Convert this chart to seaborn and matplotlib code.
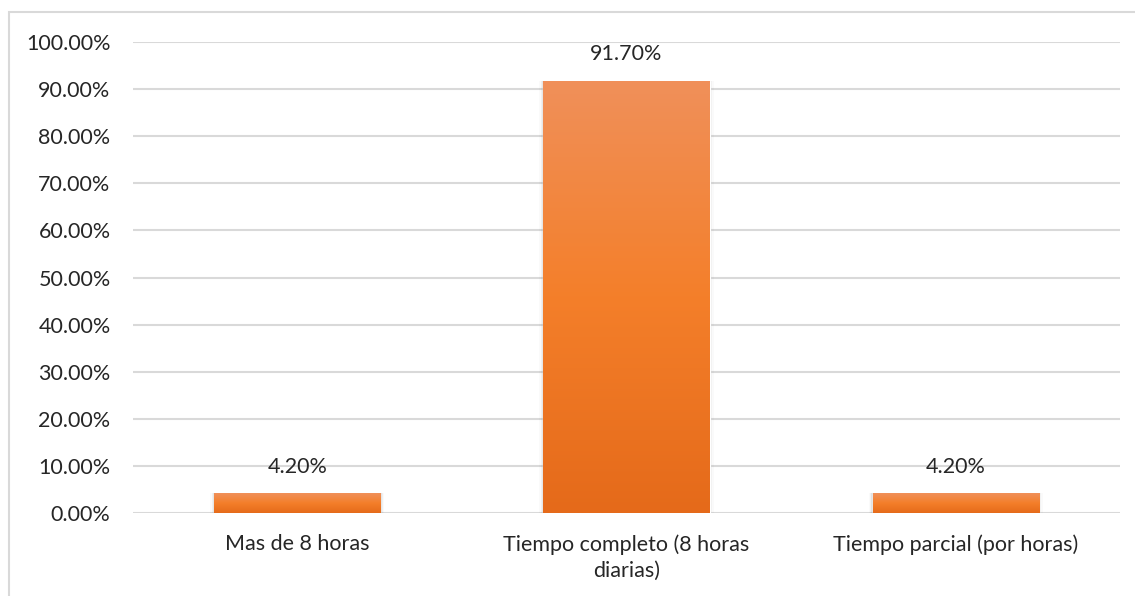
import numpy as np
import pandas as pd
import matplotlib
matplotlib.use('Agg')
import matplotlib.pyplot as plt
from matplotlib.patches import Rectangle
from matplotlib.colors import LinearSegmentedColormap
from matplotlib.ticker import FuncFormatter
import seaborn as sns

# Datos
categorias = ['Mas de 8 horas', 'Tiempo completo (8 horas\ndiarias)', 'Tiempo parcial (por horas)']
porcentajes = [0.042, 0.917, 0.042]
etiquetas = ['4.20%', '91.70%', '4.20%']

df = pd.DataFrame({'categoria': categorias, 'porcentaje': porcentajes})

sns.set_style('white')
plt.rcParams['font.family'] = ['Lato', 'DejaVu Sans']

fig = plt.figure(figsize=(11.35, 5.96), dpi=100)
ax = fig.add_axes([0.117, 0.139, 0.870, 0.7905])

sns.barplot(data=df, x='categoria', y='porcentaje', color='#ED7D31',
            width=0.505, ax=ax, zorder=3)

# degradado naranja en cada barra
cmap = LinearSegmentedColormap.from_list('naranja', ['#E56A1A', '#F47F2A', '#F0905A'])
grad = np.linspace(0, 1, 256).reshape(-1, 1)
for bar in list(ax.patches):
    x0, y0 = bar.get_x(), bar.get_y()
    w, h = bar.get_width(), bar.get_height()
    # sombra suave
    for k, a in enumerate([0.06, 0.04, 0.02]):
        sh = Rectangle((x0 - 0.004 * (k + 1), y0 - 0.002 * (k + 1)),
                       w + 0.008 * (k + 1), h + 0.002 * (k + 1),
                       color='black', alpha=a, lw=0, zorder=2)
        ax.add_patch(sh)
    im = ax.imshow(grad, cmap=cmap, aspect='auto', origin='lower',
                   extent=(x0, x0 + w, y0, y0 + h), zorder=4)
    im.set_clip_path(bar)

for i, (v, lab) in enumerate(zip(porcentajes, etiquetas)):
    ax.annotate(lab, (i, v), xytext=(0, 12), textcoords='offset points',
                ha='center', va='bottom', fontsize=15.5, color='#262626')

ax.set_ylim(0, 1.0)
ax.set_xlim(-0.5, 2.5)
ax.set_yticks(np.arange(0, 1.01, 0.1))
ax.yaxis.set_major_formatter(FuncFormatter(lambda y, _: f'{y*100:.2f}%'))
ax.tick_params(axis='y', labelsize=15.5, colors='#262626', length=0, pad=16)

# etiquetas de categoria centradas (tambien la segunda linea)
ax.set_xticks(range(len(categorias)), labels=[''] * len(categorias))
ax.tick_params(axis='x', length=0)
for i, cat in enumerate(categorias):
    ax.annotate(cat, (i, 0), xycoords=('data', 'axes fraction'),
                xytext=(0, -15), textcoords='offset points',
                ha='center', va='top', multialignment='center',
                linespacing=1.4, fontsize=15.5, color='#262626')
ax.set_xlabel('')
ax.set_ylabel('')
ax.yaxis.grid(True, color='#D9D9D9', linewidth=1.5, zorder=0)
ax.set_axisbelow(True)
for s in ax.spines.values():
    s.set_visible(False)

# borde del area del grafico
fig.patches.append(Rectangle((9 / 1135, -0.1), 1.2, 1.1 - 12 / 596,
                             transform=fig.transFigure, fill=False,
                             edgecolor='#D9D9D9', linewidth=1.5))

fig.savefig('out.png', dpi=100)
